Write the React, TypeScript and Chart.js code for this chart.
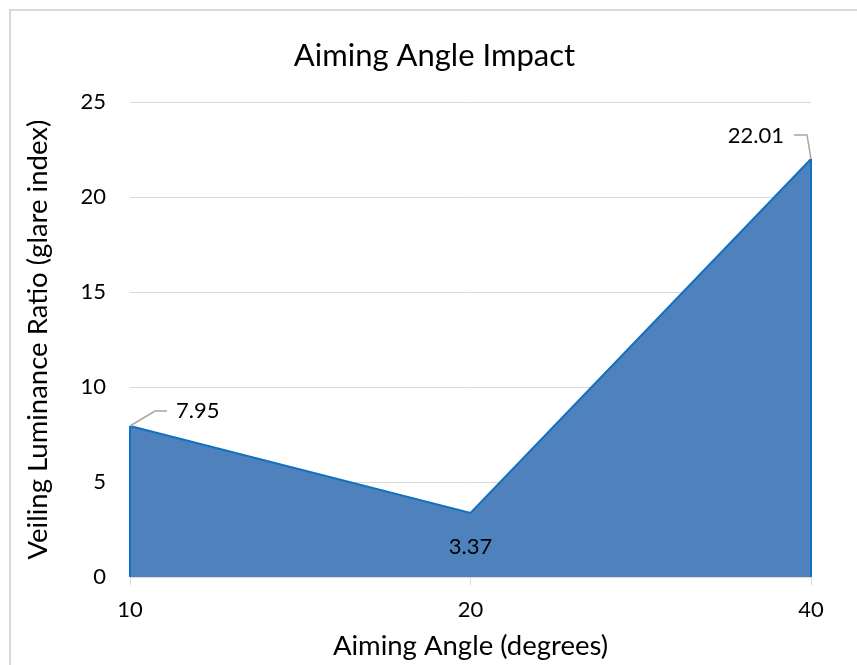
import React, { useEffect, useRef } from "react";
import { Chart, registerables } from "chart.js";

Chart.register(...registerables);

// Aiming angle (degrees) and resulting veiling luminance ratio
const angleLabels: string[] = ["10", "20", "40"];
const glareIndex: number[] = [7.95, 3.37, 22.01];
const glareLabels: string[] = ["7.95", "3.37", "22.01"];

const FONT = "Lato, 'Noto Sans', sans-serif";
const TEXT = "#000000";
const GRID = "#D9D9D9";
const FILL = "#4F81BD";
const EDGE = "#1170C0";
const LEADER = "#A6A6A6";

// white background with a light frame around the chart object
const framePlugin = {
  id: "frame",
  beforeDraw(chart: any) {
    const { ctx, width, height } = chart;
    ctx.save();
    ctx.fillStyle = "#ffffff";
    ctx.fillRect(0, 0, width, height);
    ctx.strokeStyle = GRID;
    ctx.lineWidth = 2;
    ctx.strokeRect(10, 10, width + 20, height + 20);
    ctx.restore();
  },
};

// close the area outline with vertical edges at both ends
const edgePlugin = {
  id: "areaEdges",
  afterDatasetsDraw(chart: any) {
    const { ctx } = chart;
    const meta = chart.getDatasetMeta(0);
    const yScale = chart.scales.y;
    const base = yScale.getPixelForValue(0);
    const pts = [meta.data[0], meta.data[meta.data.length - 1]];
    ctx.save();
    ctx.strokeStyle = EDGE;
    ctx.lineWidth = 2;
    pts.forEach((p: any) => {
      ctx.beginPath();
      ctx.moveTo(p.x, base);
      ctx.lineTo(p.x, p.y);
      ctx.stroke();
    });
    ctx.restore();
  },
};

// value labels; leader paths are offsets from each point
const labelPlacement = [
  { leader: [[0, 0], [25, -15], [37, -15]], dx: 46, dy: -15, align: "left" },
  { leader: null, dx: 0, dy: 34, align: "center" },
  { leader: [[0, 0], [-4, -24], [-17, -24]], dx: -27, dy: -23, align: "right" },
];

const valueLabelPlugin = {
  id: "valueLabels",
  afterDatasetsDraw(chart: any) {
    const { ctx } = chart;
    const meta = chart.getDatasetMeta(0);
    ctx.save();
    meta.data.forEach((p: any, i: number) => {
      const place = labelPlacement[i];
      if (place.leader) {
        ctx.strokeStyle = LEADER;
        ctx.lineWidth = 1.5;
        ctx.beginPath();
        place.leader.forEach(([lx, ly]: number[], k: number) => {
          if (k === 0) ctx.moveTo(p.x + lx, p.y + ly);
          else ctx.lineTo(p.x + lx, p.y + ly);
        });
        ctx.stroke();
      }
      ctx.fillStyle = TEXT;
      ctx.font = `22px ${FONT}`;
      ctx.textAlign = place.align;
      ctx.textBaseline = "middle";
      ctx.fillText(glareLabels[i], p.x + place.dx, p.y + place.dy);
    });
    ctx.restore();
  },
};

export default function App() {
  const canvasRef = useRef<HTMLCanvasElement | null>(null);

  useEffect(() => {
    if (!canvasRef.current) return;
    const chart = new Chart(canvasRef.current, {
      type: "line",
      data: {
        labels: angleLabels,
        datasets: [
          {
            label: "Veiling Luminance Ratio",
            data: glareIndex,
            fill: "origin",
            backgroundColor: FILL,
            borderColor: EDGE,
            borderWidth: 2,
            pointRadius: 0,
            tension: 0,
          },
        ],
      },
      options: {
        responsive: false,
        animation: false,
        layout: { padding: { left: 12, right: 0, top: 0, bottom: 0 } },
        plugins: {
          legend: { display: false },
          tooltip: { enabled: false },
          title: {
            display: true,
            text: "Aiming Angle Impact",
            color: TEXT,
            font: { family: FONT, size: 31, weight: "normal" },
            padding: { top: 37, bottom: 28 },
          },
        },
        scales: {
          x: {
            type: "category",
            offset: false,
            grid: {
              drawOnChartArea: false,
              drawTicks: true,
              tickLength: 8,
              color: GRID,
            },
            border: { display: true, color: GRID, width: 1 },
            ticks: {
              color: TEXT,
              font: { family: FONT, size: 22 },
              padding: 12,
              maxRotation: 0,
            },
            title: {
              display: true,
              text: "Aiming Angle (degrees)",
              color: TEXT,
              font: { family: FONT, size: 27.5 },
              padding: { top: 0, bottom: 2.5 },
            },
            afterFit: (scale: any) => {
              scale.height = 88;
            },
          },
          y: {
            min: 0,
            max: 25,
            grid: { color: GRID, lineWidth: 1, drawTicks: false },
            border: { display: false },
            ticks: {
              stepSize: 5,
              color: TEXT,
              font: { family: FONT, size: 22 },
              padding: 24,
            },
            title: {
              display: true,
              text: "Veiling Luminance Ratio (glare index)",
              color: TEXT,
              font: { family: FONT, size: 27.5 },
              padding: { top: 9.5, bottom: 0 },
            },
            afterFit: (scale: any) => {
              scale.width = 118;
            },
          },
          yRight: {
            position: "right",
            display: true,
            grid: { display: false },
            border: { display: false },
            ticks: { display: false },
            afterFit: (scale: any) => {
              scale.width = 46;
            },
          },
        },
      },
      plugins: [framePlugin, edgePlugin, valueLabelPlugin],
    });
    return () => chart.destroy();
  }, []);

  return (
    <div style={{ position: "fixed", left: 0, top: 0, width: 857, height: 665 }}>
      <canvas ref={canvasRef} width={857} height={665} />
    </div>
  );
}
